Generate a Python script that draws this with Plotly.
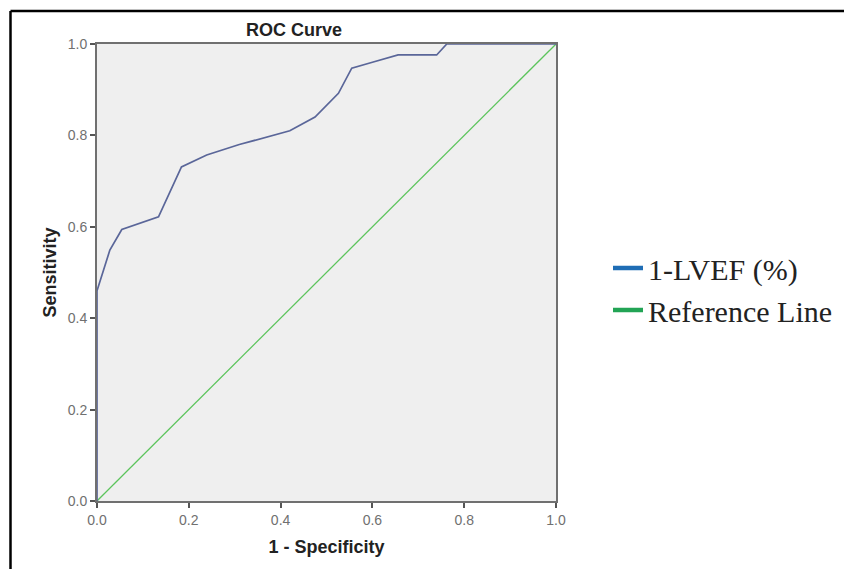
import plotly.graph_objects as go

# ROC operating points for 1-LVEF (%)
fpr = [0.0, 0.0, 0.028, 0.054, 0.134, 0.184, 0.239, 0.31, 0.42, 0.475,
       0.526, 0.555, 0.60, 0.656, 0.74, 0.762, 1.0]
tpr = [0.0, 0.46, 0.549, 0.594, 0.622, 0.731, 0.757, 0.78, 0.81, 0.84,
       0.892, 0.947, 0.96, 0.976, 0.976, 1.0, 1.0]

# diagonal chance line
ref_x = [0.0, 1.0]
ref_y = [0.0, 1.0]

tick_vals = [0.0, 0.2, 0.4, 0.6, 0.8, 1.0]
tick_text = ["0.0", "0.2", "0.4", "0.6", "0.8", "1.0"]

series_names = ["1-LVEF (%)", "Reference Line"]
legend_colors = ["#1f6db5", "#22a455"]

W, H = 844, 569
L, R, T, B = 97, 288, 44, 68
pw, ph = W - L - R, H - T - B


def px_x(px):
    return (px - L) / pw


def px_y(py):
    return (H - B - py) / ph


fig = go.Figure()

fig.add_trace(go.Scatter(x=ref_x, y=ref_y, mode="lines",
                         line=dict(color="#5cc45c", width=1.3),
                         showlegend=False, hoverinfo="skip"))
fig.add_trace(go.Scatter(x=fpr, y=tpr, mode="lines",
                         line=dict(color="#5a6699", width=1.7),
                         showlegend=False))

# legend entries with thicker swatches
for name, col in zip(series_names, legend_colors):
    fig.add_trace(go.Scatter(x=[None], y=[None], mode="lines", name=name,
                             line=dict(color=col, width=4.5)))

axis_common = dict(
    range=[0, 1], tickvals=tick_vals, ticktext=tick_text,
    showgrid=False, zeroline=False,
    showline=True, linecolor="#707070", linewidth=2, mirror=True,
    ticks="outside", ticklen=5, tickwidth=1.5, tickcolor="#555555",
    tickfont=dict(family="Liberation Sans, Arial", size=14, color="#707070"),
    fixedrange=True, automargin=False,
)

title_font = dict(family="Liberation Sans, Arial", size=18, color="#222222")

fig.update_layout(
    width=W, height=H,
    margin=dict(l=L, r=R, t=T, b=B, autoexpand=False),
    paper_bgcolor="white", plot_bgcolor="#efefef",
    title=dict(text="<b>ROC Curve</b>", x=px_x(294), xref="paper",
               xanchor="center", y=1 - 30 / H, yref="container",
               yanchor="middle", font=title_font),
    xaxis=dict(title=dict(text="<b>1 - Specificity</b>", standoff=14,
                          font=title_font),
               **axis_common),
    yaxis=dict(title=dict(text="<b>Sensitivity</b>", standoff=6,
                          font=title_font),
               **axis_common),
    legend=dict(x=px_x(608), y=px_y(289), xanchor="left", yanchor="middle",
                font=dict(family="Liberation Serif, Times New Roman", size=30,
                          color="#222222"),
                bgcolor="rgba(0,0,0,0)", borderwidth=0,
                itemwidth=30, tracegroupgap=0),
    shapes=[
        dict(type="line", xref="paper", yref="paper",
             x0=px_x(10.5), x1=px_x(10.5), y0=px_y(11), y1=px_y(H + 5),
             line=dict(color="black", width=2.5)),
        dict(type="line", xref="paper", yref="paper",
             x0=px_x(10.5), x1=px_x(W + 5), y0=px_y(11), y1=px_y(11),
             line=dict(color="black", width=2.5)),
    ],
)

fig.write_html("out.html")
